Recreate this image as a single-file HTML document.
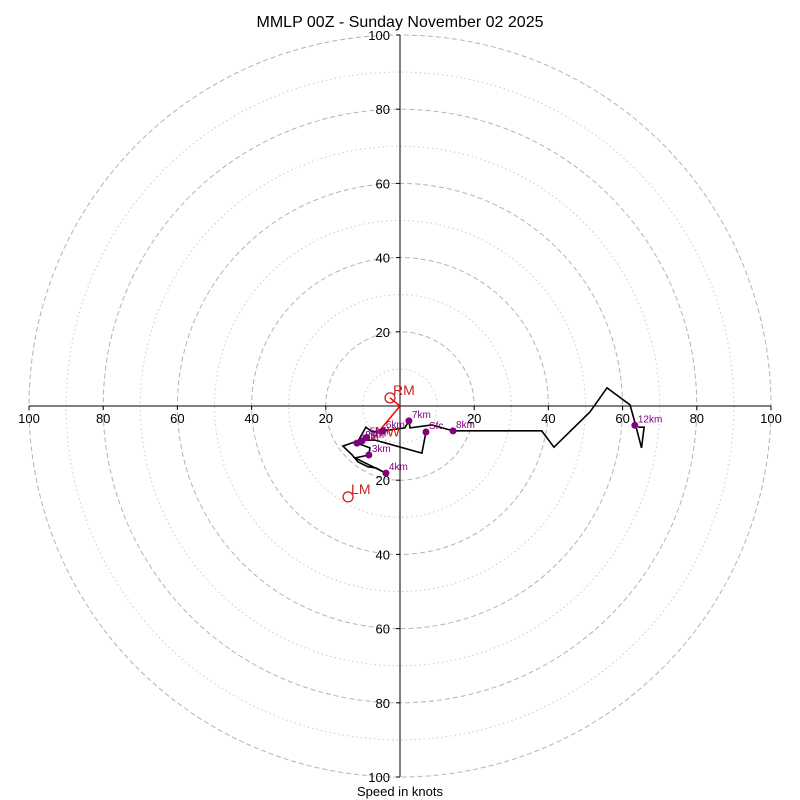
<!DOCTYPE html>
<html><head><meta charset="utf-8"><style>
body{margin:0;background:#fff}
svg{display:block;font-family:"Liberation Sans",sans-serif}
</style></head><body>
<svg id="c" width="800" height="800" viewBox="0 0 800 800">
<rect width="800" height="800" fill="#fff"/>
<text x="400" y="27" text-anchor="middle" font-size="16">MMLP 00Z - Sunday November 02 2025</text>
<text x="400" y="796" text-anchor="middle" font-size="13">Speed in knots</text>
<g id="grid"></g><g id="axes"></g><g id="plot"></g>
</svg>
<script>
const ringSpeeds=[10,20,30,40,50,60,70,80,90,100];
const tickSpeeds=[20,40,60,80,100];
const traceU=[7.0,5.9,-6.7,-10.8,-15.4,-12.9,-11.3,-8.6,-6.5,-3.8,-12.1,-8.4,-8.1,-11.6,-9.2,-7.5,-4.6,1.3,2.4,2.7,8.6,14.3,38.2,41.5,51.2,55.8,62.0,63.5,65.1,65.8,64.2];
const traceV=[-7.0,-12.7,-9.2,-9.2,-10.8,-13.2,-15.1,-16.4,-16.7,-18.1,-14.0,-13.2,-11.3,-10.0,-5.7,-7.0,-6.7,-5.9,-4.0,-5.9,-5.1,-6.7,-6.7,-11.1,-1.6,4.9,0.3,-5.1,-11.3,-5.7,-5.7];
const markLabels=["Sfc","1km","2km","3km","4km","5km","6km","7km","8km","12km"];
const markU=[7.0,-11.6,-10.2,-8.4,-3.8,-9.0,-4.6,2.4,14.3,63.3];
const markV=[-7.0,-10.0,-9.4,-13.2,-18.1,-8.5,-6.7,-4.0,-6.7,-5.2];
const stormLabels=["RM","LM","MW"];
const stormU=[-2.7,-14.0,-7.5];
const stormV=[2.2,-24.5,-9.0];
const NS="http://www.w3.org/2000/svg";
const cx=400,cy=406,k=3.71;
const X=u=>cx+u*k, Y=v=>cy-v*k;
function mk(p,t,a,n,txt){const e=document.createElementNS(NS,t);for(const q in a)e.setAttribute(q,a[q]);


if(txt!==undefined)e.textContent=txt;document.getElementById(p).appendChild(e);return e;}
ringSpeeds.forEach(s=>{const maj=s%20===0;
mk('grid','circle',{cx:cx,cy:cy,r:s*k,fill:'none',stroke:maj?'#b4b4b4':'#ccc','stroke-width':1,'stroke-dasharray':maj?'5,3':'1.5,3'},'ring-'+s);});
mk('axes','line',{x1:X(-100),y1:cy,x2:X(100),y2:cy,stroke:'#000','stroke-width':1},'x-axis');
mk('axes','line',{x1:cx,y1:Y(100),x2:cx,y2:Y(-100),stroke:'#000','stroke-width':1},'y-axis');
tickSpeeds.forEach(s=>{[-1,1].forEach(d=>{
mk('axes','line',{x1:X(d*s),y1:cy,x2:X(d*s),y2:cy+4,stroke:'#000'},'x-tick');
mk('axes','text',{x:X(d*s),y:cy+17,'text-anchor':'middle','font-size':13},'x-tick-label',String(s));
mk('axes','line',{x1:cx-4,y1:Y(d*s),x2:cx,y2:Y(d*s),stroke:'#000'},'y-tick');
mk('axes','text',{x:cx-10,y:Y(d*s)+5,'text-anchor':'end','font-size':13},'y-tick-label',String(s));});});
mk('plot','polyline',{points:traceU.map((u,i)=>X(u)+','+Y(traceV[i])).join(' '),fill:'none',stroke:'#000','stroke-width':1.6},'hodograph-line');
stormU.forEach((u,i)=>{
mk('plot','line',{x1:cx,y1:cy,x2:X(u),y2:Y(stormV[i]),stroke:'red','stroke-width':1.5,opacity:i==1?0:1},'storm-vector-'+stormLabels[i].toLowerCase());
if(i<2)mk('plot','circle',{cx:X(u),cy:Y(stormV[i]),r:5,fill:'none',stroke:'#c22','stroke-width':1.3},'storm-marker-'+stormLabels[i].toLowerCase());
mk('plot','text',{x:X(u)+3,y:Y(stormV[i])-3,'font-size':14,fill:'#c22'},'storm-label-'+stormLabels[i].toLowerCase(),stormLabels[i]);});
markU.forEach((u,i)=>{
mk('plot','circle',{cx:X(u),cy:Y(markV[i]),r:3.5,fill:'purple'},'height-marker');
mk('plot','text',{x:X(u)+3,y:Y(markV[i])-3,'font-size':10,fill:'purple'},'height-label',markLabels[i]);});
</script>
</body></html>
